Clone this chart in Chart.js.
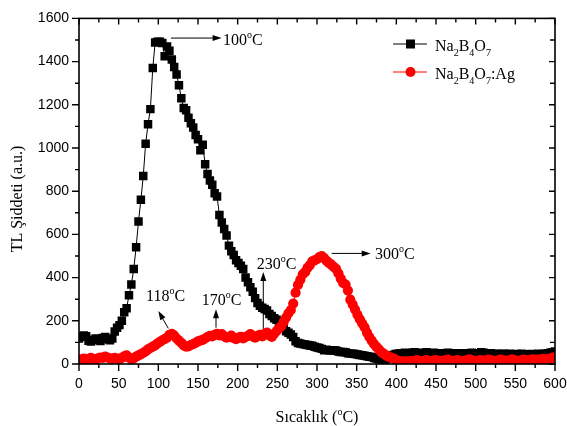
<!DOCTYPE html>
<html><head><meta charset="utf-8">
<script src="https://cdn.jsdelivr.net/npm/chart.js@4.4.1/dist/chart.umd.min.js"></script>
<style>html,body{margin:0;padding:0;background:#fff;}#wrap{width:567px;height:426px;}</style>
</head><body><div id="wrap"><canvas id="c" width="567" height="426"></canvas></div>
<script>
// Temperature (°C)
const temps = [
0,3,6,9,12,15,18,21,24,27,
30,33,36,39,42,45,48,51,54,57,
60,63,66,69,72,75,78,81,84,87,
90,93,96,99,102,105,108,111,114,117,
120,123,126,129,132,135,138,141,144,147,
150,153,156,159,162,165,168,171,174,177,
180,183,186,189,192,195,198,201,204,207,
210,213,216,219,222,225,228,231,234,237,
240,243,246,249,252,255,258,261,264,267,
270,273,276,279,282,285,288,291,294,297,
300,303,306,309,312,315,318,321,324,327,
330,333,336,339,342,345,348,351,354,357,
360,363,366,369,372,375,378,381,384,387,
390,393,396,399,402,405,408,411,414,417,
420,423,426,429,432,435,438,441,444,447,
450,453,456,459,462,465,468,471,474,477,
480,483,486,489,492,495,498,501,504,507,
510,513,516,519,522,525,528,531,534,537,
540,543,546,549,552,555,558,561,564,567,
570,573,576,579,582,585,588,591,594,597,
600];
// TL intensity, Na2B4O7
const na2b4o7 = [
118,126,132,128,108,104,112,118,110,106,
120,125,114,110,118,150,168,180,200,240,
258,318,368,440,540,660,760,870,1020,1110,
1180,1370,1488,1492,1492,1486,1425,1470,1450,1410,
1375,1340,1290,1230,1185,1175,1140,1115,1095,1060,
1040,990,1015,925,880,850,830,790,776,690,
655,625,595,548,522,505,480,468,455,440,
400,378,355,335,305,282,270,260,255,248,
232,222,212,205,195,184,170,152,145,137,
125,105,97,95,92,90,88,86,84,80,
76,74,70,64,66,64,62,64,62,58,
56,56,54,50,48,48,46,44,42,41,
38,36,34,32,28,26,22,18,20,22,
28,35,42,46,48,50,46,52,50,48,
52,55,50,48,52,50,55,48,50,52,
48,50,46,50,48,52,46,50,48,45,
50,48,46,50,48,52,50,46,50,55,
52,48,46,50,45,48,46,44,48,46,
44,48,45,42,46,44,48,45,42,44,
46,42,44,48,45,46,48,50,52,55,
58];
// TL intensity, Na2B4O7:Ag
const na2b4o7Ag = [
18,22,25,20,24,28,22,20,26,30,
28,34,30,26,24,28,25,22,28,35,
40,30,22,26,34,40,45,52,58,68,
74,80,86,95,102,110,115,122,135,140,
132,118,108,98,86,80,82,88,92,98,
105,108,112,118,125,130,128,135,140,132,
138,128,122,125,132,120,115,122,126,118,
125,130,138,128,122,130,135,128,140,145,
132,125,140,152,165,175,195,215,235,250,
280,330,366,390,415,425,445,458,475,480,
485,495,500,490,478,468,460,450,440,420,
395,375,368,340,298,275,252,228,207,188,
170,145,125,108,92,79,68,55,48,40,
34,30,26,20,15,12,10,12,10,14,
12,15,18,14,12,15,18,14,12,16,
18,15,12,14,18,20,15,12,16,18,
14,12,15,18,22,18,15,12,16,18,
14,16,20,18,15,12,16,20,18,14,
16,18,22,18,15,14,18,20,16,18,
20,22,18,20,22,24,20,22,25,28,
32];

const xTickStep = 50, yTickStep = 200;
const seriesNames = ['Na2B4O7', 'Na2B4O7:Ag'];
const peakTemps = ['100', '300', '230', '170', '118'];

// annotation placement (data units): text left/baseline, arrow from -> tip
const annot = [
  {label: peakTemps[0], tx: 181.5, ty: 1478, ax: 116, ay: 1509, bx: 179.8, by: 1509},
  {label: peakTemps[1], tx: 373, ty: 485, ax: 318.5, ay: 512, bx: 367.7, by: 512},
  {label: peakTemps[2], tx: 224, ty: 442, ax: 232.3, ay: 163, bx: 232.3, by: 426},
  {label: peakTemps[3], tx: 154.7, ty: 274, ax: 172.7, ay: 168, bx: 172.7, by: 254},
  {label: peakTemps[4], tx: 84.5, ty: 290, ax: 112.6, ay: 165, bx: 100, by: 245}
];

const SERIF = '"Liberation Serif", "Times New Roman", serif';
const SANS = '"Liberation Sans", Arial, sans-serif';

function drawParts(ctx, x, y, parts, size) {
  let cx = x;
  for (const [t, m] of parts) {
    const fs = m === 0 ? size : Math.round(size * 0.62);
    ctx.font = fs + 'px ' + SERIF;
    const dy = m === 1 ? -Math.round(size * 0.45) : (m === -1 ? Math.round(size * 0.3) : 0);
    ctx.fillText(t, cx, y + dy);
    cx += ctx.measureText(t).width;
  }
  return cx - x;
}
function partsWidth(ctx, parts, size) {
  let w = 0;
  for (const [t, m] of parts) {
    const fs = m === 0 ? size : Math.round(size * 0.62);
    ctx.font = fs + 'px ' + SERIF;
    w += ctx.measureText(t).width;
  }
  return w;
}
function arrow(ctx, x1, y1, x2, y2) {
  const L = 9, H = 3;
  const a = Math.atan2(y2 - y1, x2 - x1);
  ctx.beginPath();
  ctx.moveTo(x1, y1);
  ctx.lineTo(x2 - Math.cos(a) * L * 0.8, y2 - Math.sin(a) * L * 0.8);
  ctx.stroke();
  ctx.beginPath();
  ctx.moveTo(x2, y2);
  ctx.lineTo(x2 - Math.cos(a) * L - Math.sin(a) * H, y2 - Math.sin(a) * L + Math.cos(a) * H);
  ctx.lineTo(x2 - Math.cos(a) * L + Math.sin(a) * H, y2 - Math.sin(a) * L - Math.cos(a) * H);
  ctx.closePath();
  ctx.fill();
}
function formulaParts(name) {
  const out = [];
  const m = name.split(':');
  for (const ch of m[0]) out.push([ch, /[0-9]/.test(ch) ? -1 : 0]);
  if (m[1]) out.push([':' + m[1], 0]);
  return out;
}

const framePlugin = {
  id: 'frame',
  afterDatasetsDraw(chart) {
    const ctx = chart.ctx, a = chart.chartArea;
    const xs = chart.scales.x, ys = chart.scales.y;
    ctx.save();
    ctx.strokeStyle = '#000';
    ctx.fillStyle = '#000';
    ctx.lineWidth = 1.6;
    ctx.strokeRect(a.left, a.top, a.right - a.left, a.bottom - a.top);
    ctx.lineWidth = 1.4;
    ctx.beginPath();
    for (let v = 0; v <= 600; v += 25) {
      const px = xs.getPixelForValue(v);
      const major = v % 50 === 0;
      ctx.moveTo(px, a.bottom); ctx.lineTo(px, a.bottom + (major ? 7 : 4));
      ctx.moveTo(px, a.top); ctx.lineTo(px, a.top + (major ? 6 : 4));
    }
    for (let v = 0; v <= 1600; v += 100) {
      const py = ys.getPixelForValue(v);
      const major = v % 200 === 0;
      ctx.moveTo(a.left, py); ctx.lineTo(a.left - (major ? 7 : 4), py);
      ctx.moveTo(a.right, py); ctx.lineTo(a.right - (major ? 6 : 5), py);
    }
    ctx.stroke();

    ctx.lineWidth = 1;
    for (const an of annot) {
      arrow(ctx, xs.getPixelForValue(an.ax), ys.getPixelForValue(an.ay),
                 xs.getPixelForValue(an.bx), ys.getPixelForValue(an.by));
      ctx.textBaseline = 'alphabetic';
      ctx.textAlign = 'left';
      drawParts(ctx, xs.getPixelForValue(an.tx), ys.getPixelForValue(an.ty),
        [[an.label, 0], ['o', 1], ['C', 0]], 16);
    }

    const colors = ['#000000', '#ff0000'];
    const rows = [44, 72];
    for (let i = 0; i < 2; i++) {
      const y = rows[i];
      ctx.strokeStyle = colors[i]; ctx.fillStyle = colors[i];
      ctx.lineWidth = 1;
      ctx.beginPath(); ctx.moveTo(393, y); ctx.lineTo(427, y); ctx.stroke();
      ctx.beginPath();
      if (i === 0) ctx.rect(406, y - 4.5, 9, 9);
      else ctx.arc(410.5, y, 5, 0, Math.PI * 2);
      ctx.fill();
      ctx.fillStyle = '#000';
      drawParts(ctx, 435, y + 7, formulaParts(seriesNames[i]), 16);
    }

    ctx.fillStyle = '#000';
    const xt = [['Sıcaklık (', 0], ['o', 1], ['C)', 0]];
    const w = partsWidth(ctx, xt, 16);
    drawParts(ctx, (a.left + a.right) / 2 - w / 2, 422, xt, 16);
    ctx.translate(22, 199);
    ctx.rotate(-Math.PI / 2);
    ctx.font = '16px ' + SERIF;
    ctx.textAlign = 'center';
    ctx.fillText('TL Şiddeti (a.u.)', 0, 0);
    ctx.restore();
  }
};

new Chart(document.getElementById('c'), {
  type: 'line',
  data: {
    datasets: [
      {
        label: seriesNames[0],
        data: temps.map((t, i) => ({x: t, y: na2b4o7[i]})),
        borderColor: '#000000', backgroundColor: '#000000',
        borderWidth: 1, pointStyle: 'rect', pointRadius: 6, pointBorderWidth: 0,
        pointBackgroundColor: '#000000', order: 1
      },
      {
        label: seriesNames[1],
        data: temps.map((t, i) => ({x: t, y: na2b4o7Ag[i]})),
        borderColor: '#ff0000', backgroundColor: '#ff0000',
        borderWidth: 1, pointStyle: 'circle', pointRadius: 5.1, pointBorderWidth: 0,
        pointBackgroundColor: '#ff0000', order: 0
      }
    ]
  },
  options: {
    responsive: false, animation: false, devicePixelRatio: 1,
    layout: {padding: {top: 12, right: 0, left: 0, bottom: 0}},
    plugins: {legend: {display: false}, tooltip: {enabled: false}},
    scales: {
      x: {
        type: 'linear', min: 0, max: 600,
        ticks: {stepSize: xTickStep, color: '#000', padding: 12, maxRotation: 0, autoSkip: false,
                font: {family: SANS, size: 14}, callback: v => String(v)},
        grid: {display: false, drawTicks: false}, border: {display: false},
        afterFit(s) { s.height = 62; s.paddingRight = 12; }
      },
      y: {
        type: 'linear', min: 0, max: 1600,
        ticks: {stepSize: yTickStep, color: '#000', padding: 10, font: {family: SANS, size: 14},
                callback: v => String(v)},
        grid: {display: false, drawTicks: false}, border: {display: false},
        afterFit(s) { s.width = 79; }
      }
    }
  },
  plugins: [framePlugin]
});
</script>
</body></html>
